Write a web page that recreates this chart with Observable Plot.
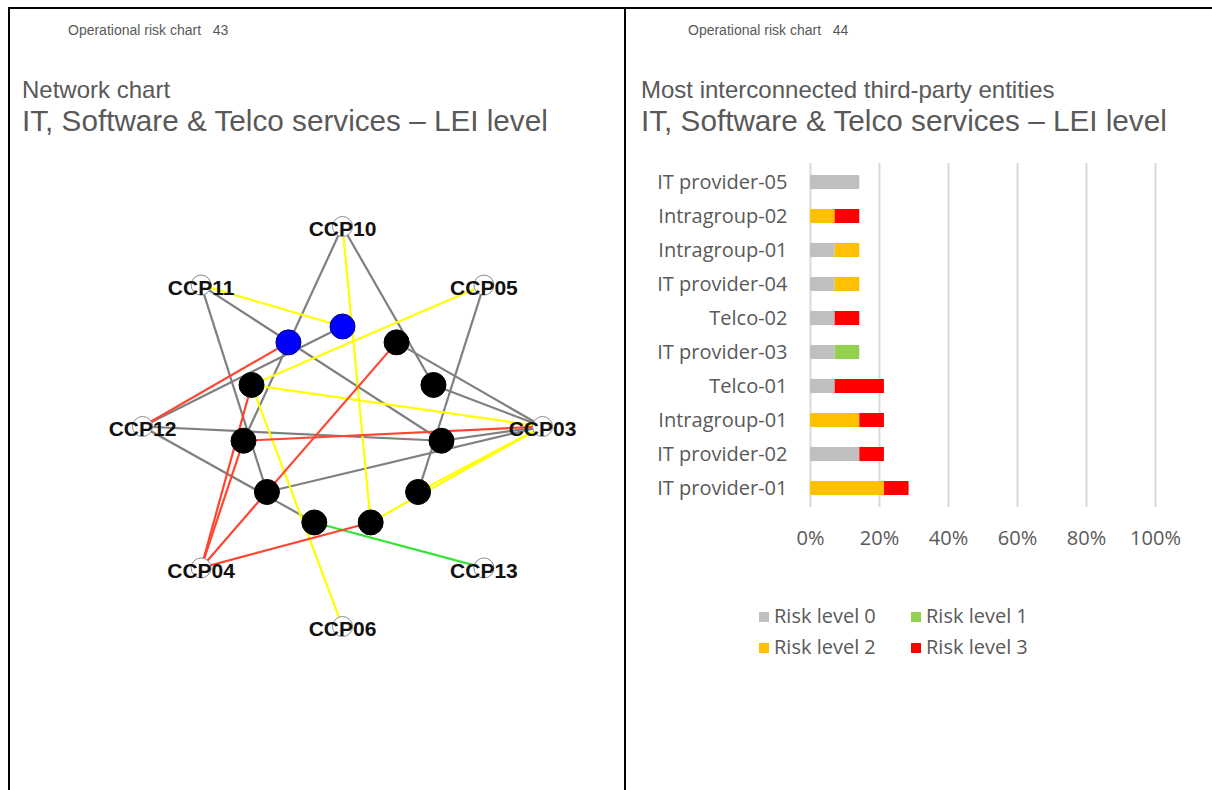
<!DOCTYPE html>
<html><head><meta charset="utf-8">
<script src="https://cdn.jsdelivr.net/npm/d3@7"></script>
<script src="https://cdn.jsdelivr.net/npm/@observablehq/plot@0.6"></script>
<style>
body{margin:0;background:#fff;font-family:Arial,"Liberation Sans",sans-serif;}
#page{position:relative;width:1212px;height:790px;overflow:hidden;background:#fff}
.line{position:absolute;background:#000}
.t{position:absolute;color:#595959;white-space:pre;line-height:1}
.hdr{font-size:14px}
.sub{font-size:24px}
.ttl{font-size:29.7px}
#net{position:absolute;left:0;top:150px}
#bars{position:absolute;left:630px;top:160px}
#legend{position:absolute;left:759px;top:606px;font-family:"Open Sans",sans-serif;font-size:20px;color:#595959}
.li{position:absolute;white-space:nowrap;line-height:1}
.sw{display:inline-block;width:10px;height:10px;margin-right:5px;vertical-align:1px}
</style></head>
<body>
<div id="page">
  <div class="line" style="left:8px;top:7px;width:1204px;height:2px"></div>
  <div class="line" style="left:8px;top:7px;width:2px;height:783px"></div>
  <div class="line" style="left:624px;top:7px;width:2px;height:783px"></div>

  <div class="t hdr" style="left:68px;top:23px">Operational risk chart   43</div>
  <div class="t sub" style="left:22px;top:78px">Network chart</div>
  <div class="t ttl" style="left:22px;top:106px">IT, Software &amp; Telco services – LEI level</div>

  <div class="t hdr" style="left:688px;top:23px">Operational risk chart   44</div>
  <div class="t sub" style="left:641px;top:78px">Most interconnected third-party entities</div>
  <div class="t ttl" style="left:641px;top:106px">IT, Software &amp; Telco services – LEI level</div>

  <div id="net"></div>
  <div id="bars"></div>
  <div id="legend"></div>
</div>
<script>
// ---------- Network data ----------
// outer ring (CCPs), clockwise from top
const ccps = ["CCP10","CCP05","CCP03","CCP13","CCP06","CCP04","CCP12","CCP11"];
// inner ring (third-party entities), clockwise from top
const entitiesInner = ["N01","N02","N03","N04","N05","N06","N07","N08","N09","N10","N11"];
const entityGroup   = ["own","other","other","other","other","other","other","other","other","other","own"];
// edges: source CCP, target entity, risk level
const edgeSource = ["CCP10","CCP10","CCP10","CCP11","CCP11","CCP11","CCP12","CCP12","CCP12","CCP12","CCP05","CCP05",
  "CCP03","CCP03","CCP03","CCP03","CCP03","CCP03","CCP03","CCP03","CCP04","CCP04","CCP04","CCP04","CCP13","CCP06"];
const edgeTarget = ["N09","N03","N06","N01","N04","N08","N11","N01","N04","N07","N10","N05",
  "N02","N03","N10","N09","N04","N08","N05","N06","N10","N09","N02","N06","N07","N10"];
const edgeLevel  = [0,0,2,2,0,0,3,0,0,0,2,0,
  0,0,2,3,0,0,2,2,3,3,3,3,1,2];
const edgeColors = ["#808080","#33e633","#ffff00","#ff4530"];

// ---------- Bar data ----------
const barEntities = ["IT provider-05","Intragroup-02","Intragroup-01","IT provider-04","Telco-02","IT provider-03","Telco-01","Intragroup-01","IT provider-02","IT provider-01"];
const riskLevels = ["Risk level 0","Risk level 1","Risk level 2","Risk level 3"];
const riskColors = ["#bfbfbf","#92d050","#ffc000","#ff0000"];
const level0 = [14.29,0,7.14,7.14,7.14,7.14,7.14,0,14.29,0];
const level1 = [0,0,0,0,0,7.14,0,0,0,0];
const level2 = [0,7.14,7.14,7.14,0,0,0,14.29,0,21.43];
const level3 = [0,7.14,0,0,7.14,0,14.29,7.14,7.14,7.14];
const xTicks = [0,20,40,60,80,100];

// ---------- Network layout (circular) ----------
const nodes = new Map();
const outerData = ccps.map((name,i)=>{
  const a = i*2*Math.PI/ccps.length;
  const d = {name, x: Math.sin(a), y: Math.cos(a)};
  nodes.set(name,d); return d;
});
const innerData = entitiesInner.map((name,i)=>{
  const a = i*2*Math.PI/entitiesInner.length;
  const d = {name, group: entityGroup[i], x: 0.5*Math.sin(a), y: 0.5*Math.cos(a)};
  nodes.set(name,d); return d;
});
const edges = edgeSource.map((s,i)=>({s: nodes.get(s), t: nodes.get(edgeTarget[i]), level: edgeLevel[i]}))
  .sort((a,b)=>a.level-b.level);

const net = Plot.plot({
  width: 620, height: 540, margin: 0,
  x: {domain:[-1,1], range:[142,542], axis:null},
  y: {domain:[-1,1], range:[476,76], axis:null},
  marks: [
    Plot.link(edges, {x1: d=>d.s.x, y1: d=>d.s.y, x2: d=>d.t.x, y2: d=>d.t.y,
      stroke: d=>edgeColors[d.level], strokeWidth: 2.2}),
    Plot.dot(outerData, {x:"x", y:"y", r:10, fill:"white", stroke:"#8c8c8c", strokeWidth:1}),
    Plot.dot(innerData, {x:"x", y:"y", r:12.5, fill: d=>d.group==="own"?"#0000ff":"#000000",
      stroke: d=>d.group==="own"?"#00008b":"#000000", strokeWidth:1}),
    Plot.text(outerData, {x:"x", y:"y", text:"name", fontWeight:"bold", fontSize:21,
      fill:"#111", dy:3, fontFamily:"Arial, Liberation Sans, sans-serif"})
  ]
});
document.getElementById("net").appendChild(net);

// ---------- Bar chart ----------
const rows = barEntities.map((e,i)=>"r"+i);
const levelArrays = [level0, level1, level2, level3];
const barData = [];
levelArrays.forEach((arr,li)=>arr.forEach((v,i)=>{ if (v>0) barData.push({row: rows[i], level: riskLevels[li], value: v}); }));

const bars = Plot.plot({
  width: 582, height: 400,
  marginLeft: 180, marginRight: 57, marginTop: 3, marginBottom: 53,
  style: {fontFamily:"'Open Sans', sans-serif", fontSize:"20px", color:"#595959", background:"transparent"},
  x: {domain:[0,100], ticks: xTicks, tickFormat: d=>d+"%", tickSize:0, tickPadding:23, label:null},
  y: {domain: rows, paddingInner: 0.58, paddingOuter: 0.29, tickFormat: r=>barEntities[+r.slice(1)], tickSize:0, tickPadding:23, label:null},
  color: {domain: riskLevels, range: riskColors},
  marks: [
    Plot.ruleX(xTicks, {stroke:"#d9d9d9", strokeWidth:2}),
    Plot.barX(barData, Plot.stackX({x:"value", y:"row", fill:"level", order: riskLevels}))
  ]
});
document.getElementById("bars").appendChild(bars);

// ---------- Legend ----------
const legend = document.getElementById("legend");
const legendPos = [[0,0],[152,0],[0,31],[152,31]];
riskLevels.forEach((lv,i)=>{
  const el = document.createElement("div");
  el.className = "li";
  el.style.left = legendPos[i][0]+"px";
  el.style.top = legendPos[i][1]+"px";
  el.innerHTML = `<span class="sw" style="background:${riskColors[i]}"></span>${lv}`;
  legend.appendChild(el);
});
</script>
</body></html>
